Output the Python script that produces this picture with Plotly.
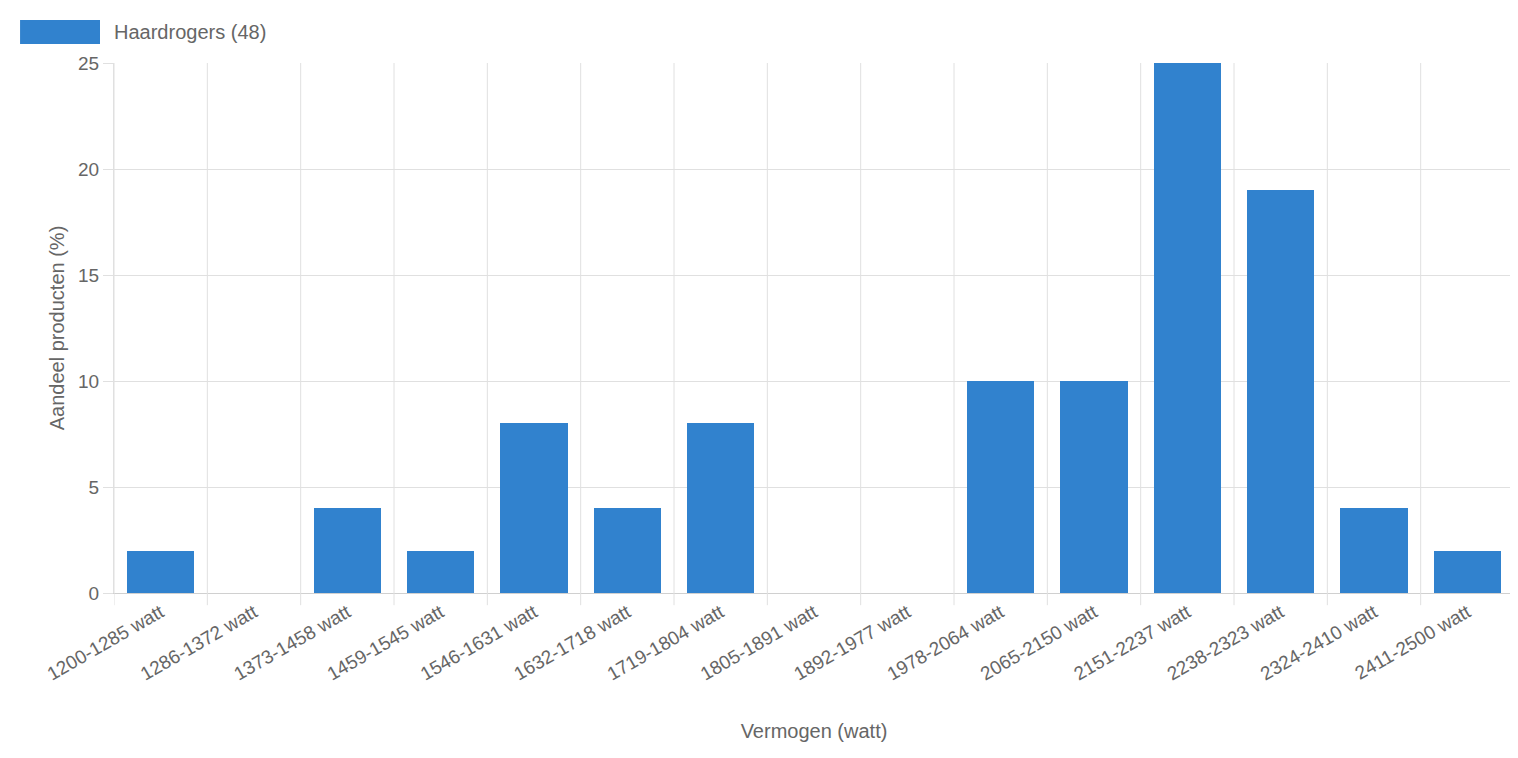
import plotly.graph_objects as go

categories = ["1200-1285 watt","1286-1372 watt","1373-1458 watt","1459-1545 watt","1546-1631 watt",
              "1632-1718 watt","1719-1804 watt","1805-1891 watt","1892-1977 watt","1978-2064 watt",
              "2065-2150 watt","2151-2237 watt","2238-2323 watt","2324-2410 watt","2411-2500 watt"]
values = [2,0,4,2,8,4,8,0,0,10,10,25,19,4,2]
series_name = "Haardrogers (48)"
color = "#3182ce"
font = "Liberation Sans, Arial, sans-serif"

fig = go.Figure(go.Bar(x=list(range(len(categories))), y=values, marker_color=color,
                       marker_line_width=0, width=0.72, showlegend=False))

shapes = []
for i in range(len(categories) + 1):
    shapes.append(dict(type="line", xref="x", yref="paper", x0=i-0.5, x1=i-0.5, y0=0, y1=1,
                       line=dict(color="#e0e0e0", width=1), layer="below"))
    shapes.append(dict(type="line", xref="x", yref="paper", x0=i-0.5, x1=i-0.5, y0=0, y1=-0.023,
                       line=dict(color="#e0e0e0", width=1)))
shapes.append(dict(type="rect", xref="paper", yref="paper", x0=-0.0671, x1=-0.01, y0=1.0358, y1=1.0811,
                   fillcolor=color, line=dict(width=0)))
fig.update_layout(
    width=1510, height=750, margin=dict(l=106, r=4, t=55, b=165),
    plot_bgcolor="white", paper_bgcolor="white", bargap=0,
    font=dict(family=font, color="#666", size=19),
    shapes=shapes,
    annotations=[dict(text=series_name, xref="paper", yref="paper", x=-0.0014, y=1.0585,
                      xanchor="left", yanchor="middle", showarrow=False, font=dict(size=20, color="#666"))],
    xaxis=dict(tickmode="array", tickvals=list(range(len(categories))), ticktext=categories,
               range=[-0.5, len(categories)-0.5], tickangle=-30, showgrid=False,
               showline=True, linecolor="#d0d0d0", ticks="",
               title=dict(text="Vermogen (watt)", font=dict(size=20), standoff=40)),
    yaxis=dict(range=[0, 25], dtick=5, gridcolor="#e0e0e0", showline=True, linecolor="#e0e0e0",
               ticks="outside", ticklen=10, tickcolor="#e0e0e0", zeroline=False,
               title=dict(text="Aandeel producten (%)", font=dict(size=20), standoff=8)),
)
fig.write_html("out.html")
